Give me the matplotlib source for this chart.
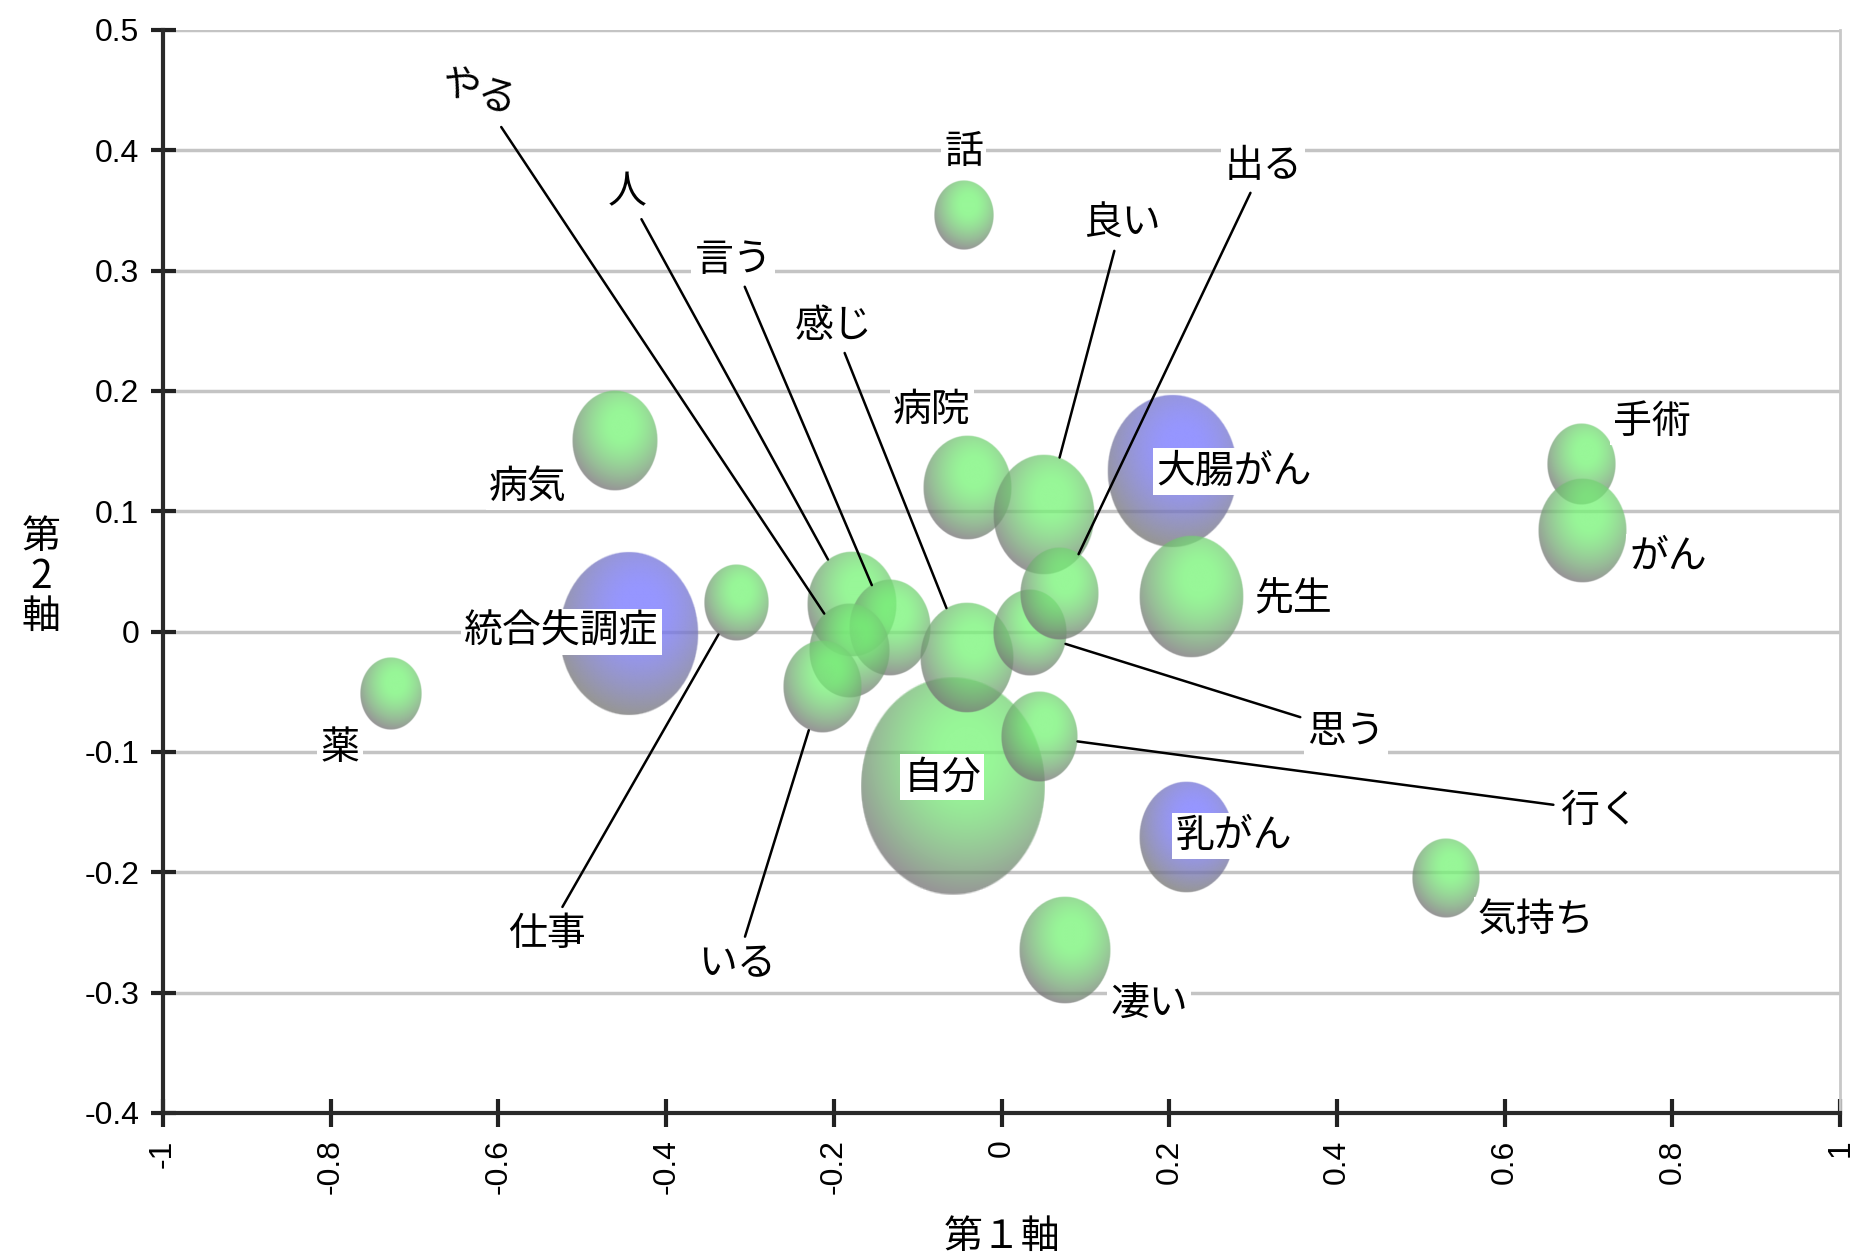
import matplotlib.pyplot as plt
import numpy as np

plt.rcParams['font.family'] = ['Noto Sans CJK JP', 'DejaVu Sans']

# 対応分析の結果 (第1軸, 第2軸, 出現数)
words = ['話', '病気', '統合失調症', '仕事', '薬', '人', '言う', 'やる', 'いる',
         '病院', '良い', '大腸がん', '先生', '手術', 'がん', '自分', '感じ',
         '思う', '出る', '行く', '乳がん', '気持ち', '凄い']
dim1 = [-0.045, -0.462, -0.444, -0.316, -0.728, -0.178, -0.133, -0.182, -0.214,
        -0.041, 0.051, 0.203, 0.226, 0.691, 0.692, -0.058, -0.042,
        0.034, 0.069, 0.045, 0.220, 0.530, 0.075]
dim2 = [0.346, 0.159, -0.002, 0.024, -0.052, 0.023, 0.003, -0.016, -0.046,
        0.120, 0.097, 0.133, 0.029, 0.139, 0.084, -0.129, -0.022,
        -0.001, 0.031, -0.087, -0.171, -0.205, -0.265]
freq = [39, 81, 218, 47, 42, 90, 74, 72, 68,
        88, 116, 189, 121, 53, 88, 385, 98,
        60, 68, 66, 100, 51, 93]
# 外部変数 (疾患名) は青
is_var = [False, False, True, False, False, False, False, False, False,
          False, False, True, False, False, False, False, False,
          False, False, False, True, False, False]

# ラベル位置
label_x = [-0.045, -0.565, -0.525, -0.542, -0.789, -0.447, -0.320, -0.624, -0.316,
           -0.083, 0.143, 0.277, 0.347, 0.776, 0.795, -0.071, -0.200,
           0.411, 0.312, 0.713, 0.277, 0.637, 0.176]
label_y = [0.399, 0.120, 0.0, -0.251, -0.097, 0.365, 0.309, 0.448, -0.276,
           0.184, 0.339, 0.133, 0.027, 0.174, 0.062, -0.121, 0.254,
           -0.083, 0.387, -0.149, -0.170, -0.240, -0.310]
leader = [False, False, False, True, False, True, True, True, True,
          False, True, False, False, False, False, False, True,
          True, True, True, False, False, False]

xticks = [-1, -0.8, -0.6, -0.4, -0.2, 0, 0.2, 0.4, 0.6, 0.8, 1]
xtick_labels = ['-1', '-0.8', '-0.6', '-0.4', '-0.2', '0', '0.2', '0.4', '0.6', '0.8', '1']
yticks = [-0.4, -0.3, -0.2, -0.1, 0, 0.1, 0.2, 0.3, 0.4, 0.5]
ytick_labels = ['-0.4', '-0.3', '-0.2', '-0.1', '0', '0.1', '0.2', '0.3', '0.4', '0.5']

fig = plt.figure(figsize=(18.55, 12.6), dpi=100)
ax = fig.add_axes([0.0879, 0.1167, 0.9041, 0.8595])
ax.set_xlim(-1, 1)
ax.set_ylim(-0.4, 0.5)

num_font = ['Liberation Sans Narrow', 'Liberation Sans', 'DejaVu Sans']
ax.set_xticks(xticks)
ax.set_xticklabels(xtick_labels, rotation=90, family=num_font, fontsize=23)
ax.set_yticks(yticks)
ax.set_yticklabels(ytick_labels, family=num_font, fontsize=23)
ax.tick_params(axis='x', direction='inout', length=20, width=3, pad=9, color='#222222')
ax.tick_params(axis='y', direction='inout', length=18, width=3, pad=8, color='#222222')

ax.grid(axis='y', color='#c4c4c4', lw=2.5)
ax.set_axisbelow(True)
ax.spines['top'].set_visible(False)
ax.spines['right'].set_color('#c8c8c8')
ax.spines['right'].set_linewidth(2)
for s in ['left', 'bottom']:
    ax.spines[s].set_color('#2a2a2a')
    ax.spines[s].set_linewidth(3)

fig.text(0.54, 0.018, '第１軸', ha='center', va='center', fontsize=28)
fig.text(0.022, 0.542, '第\n2\n軸', ha='center', va='center', fontsize=28, linespacing=1.0)

# バブル (立体風の陰影付き楕円)
fig.canvas.draw()
bb = ax.get_window_extent()
px_x = bb.width / 2.0
px_y = bb.height / 0.9

n = 180
g = np.linspace(-1, 1, n)
U, V = np.meshgrid(g, -g)
R = np.sqrt(U**2 + V**2)
d = np.hypot(U - 0.15, V - 0.3)
shade = np.clip((d - 0.25) / 1.05, 0, 1) ** 1.4
edge = np.clip((1 - R) * n / 2.5, 0, 1)
rim = np.array([115, 115, 115]) / 255.0

def bubble_img(base):
    img = np.zeros((n, n, 4))
    for k in range(3):
        img[..., k] = base[k] * (1 - shade) + rim[k] * shade
    img[..., 3] = 0.75 * edge
    return img

green_img = bubble_img(np.array([118, 245, 118]) / 255.0)
blue_img = bubble_img(np.array([115, 115, 255]) / 255.0)

radii = []
for x, y, f, v in zip(dim1, dim2, freq, is_var):
    w = 9.46 * np.sqrt(f)
    h = 1.18 * w
    rw = w / px_x / 2
    rh = h / px_y / 2
    radii.append((rw, rh))
    ax.imshow(blue_img if v else green_img, extent=(x - rw, x + rw, y - rh, y + rh),
              aspect='auto', interpolation='bilinear', zorder=2)

ax.set_xlim(-1, 1)
ax.set_ylim(-0.4, 0.5)

box = dict(boxstyle='square,pad=0.08', fc='white', ec='none')
for i, w in enumerate(words):
    rot = -18 if w == 'やる' else 0
    if leader[i]:
        cx, cy = dim1[i], dim2[i]
        rw, rh = radii[i]
        dx, dy = label_x[i] - cx, label_y[i] - cy
        t = 1 / np.sqrt((dx / rw) ** 2 + (dy / rh) ** 2)
        ax.annotate(w, xy=(cx + t * dx, cy + t * dy), xytext=(label_x[i], label_y[i]),
                    ha='center', va='center', fontsize=28, rotation=rot, bbox=box,
                    arrowprops=dict(arrowstyle='-', color='black', lw=1.8,
                                    shrinkA=3, shrinkB=0),
                    zorder=5)
    else:
        ax.text(label_x[i], label_y[i], w, ha='center', va='center', fontsize=28,
                bbox=box, zorder=5)

fig.savefig('out.png', dpi=100)
